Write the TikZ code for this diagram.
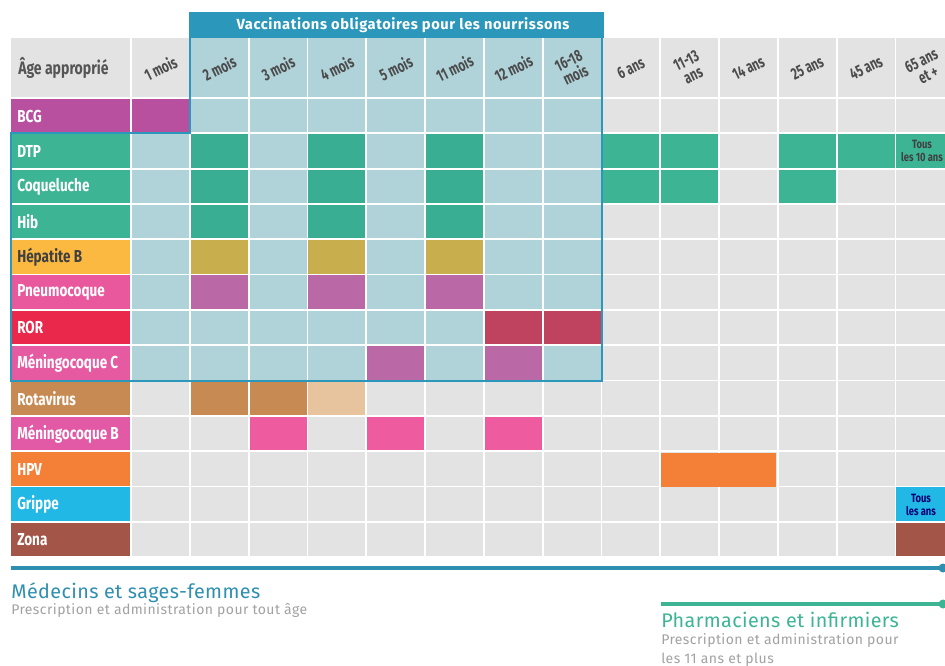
\documentclass[tikz,border=0pt]{standalone}
\usepackage{fontspec}
\setmainfont{Fira Sans}
\newfontfamily\condfont[FakeStretch=0.78]{Fira Sans}
\newfontfamily\narrowfont[FakeStretch=0.7]{Fira Sans}
\usetikzlibrary{calc}
\definecolor{cellgrey}{HTML}{E3E3E3}
\definecolor{cellblue}{HTML}{B0D3DA}
\definecolor{frameblue}{HTML}{2B97BA}
\definecolor{hdrtext}{HTML}{555555}
\definecolor{subgrey}{HTML}{A2A2A2}
\definecolor{cbcg}{HTML}{B9509F}
\definecolor{cteal}{HTML}{3DB595}
\definecolor{ctealin}{HTML}{3AAE92}
\definecolor{chepb}{HTML}{FBB941}
\definecolor{chepbin}{HTML}{C8AE4C}
\definecolor{cpneumo}{HTML}{E9579C}
\definecolor{cpurplein}{HTML}{BB69A6}
\definecolor{cror}{HTML}{E9284B}
\definecolor{crorin}{HTML}{BF435E}
\definecolor{cmenc}{HTML}{E55AA1}
\definecolor{crota}{HTML}{C68A52}
\definecolor{crotalight}{HTML}{E7C39E}
\definecolor{cmenb}{HTML}{E25AA5}
\definecolor{cmenbcell}{HTML}{EE5B9F}
\definecolor{chpv}{HTML}{F47F36}
\definecolor{cgrippe}{HTML}{22B8E6}
\definecolor{czona}{HTML}{A35548}
\definecolor{cmedecin}{HTML}{2E8FB0}
\tikzset{
  rowlabel/.style={anchor=west, inner sep=0pt, font=\condfont\bfseries\fontsize{13}{14}\selectfont},
  colhdr/.style={align=center, rotate=26, inner sep=0pt, text=hdrtext!90!black, font=\narrowfont\bfseries\fontsize{12.5}{12}\selectfont},
  cellnote/.style={align=center, inner sep=0pt, font=\condfont\bfseries\fontsize{9}{9.5}\selectfont},
  legtitle/.style={anchor=base west, inner sep=0pt, font=\addfontfeature{LetterSpace=2}\fontsize{14.8}{16}\selectfont},
  legtext/.style={inner sep=0pt, align=left, text=subgrey, font=\addfontfeature{LetterSpace=3}\fontsize{10.5}{14.3}\selectfont},
}
\def\cellat(#1,#2)[#3]{\fill[#3] ({132+(#1-1)*58.8},{99+(#2-1)*35.3}) rectangle ++(57,33.5);}

\begin{document}
\begin{tikzpicture}[x=0.75pt,y=-0.75pt]
			%%%%% START %%%%%
			\useasboundingbox (0,0) rectangle (945,666);
			\fill[white] (0,0) rectangle (945,666);
			
			% header row
			\fill[cellgrey] (11,38) rectangle (130,97);
			\node[anchor=west, inner sep=0pt, text=hdrtext, font=\condfont\bfseries\fontsize{13.5}{14}\selectfont] (agehdr) at (18,68) {Âge approprié};
			\foreach \c in {1,...,14}{
				\fill[cellgrey] ({132+(\c-1)*58.8},38) rectangle ++(57,59);
			}
			\foreach \c in {2,...,8}{
				\fill[cellblue] ({132+(\c-1)*58.8},38) rectangle ++(57,59);
			}
			\foreach \c/\t in {1/1 mois, 2/2 mois, 3/3 mois, 4/4 mois, 5/5 mois, 6/11 mois, 7/12 mois, 8/{16-18\\mois}, 9/6 ans, 10/{11-13\\ans}, 11/14 ans, 12/25 ans, 13/45 ans, 14/{65 ans\\et +}}{
				\node[colhdr] (col\c) at ({160.5+(\c-1)*58.8},68) {\t};
			}
			
			% empty cells
			\foreach \r in {1,...,13}{
				\foreach \c in {1,...,14}{ \cellat(\c,\r)[cellgrey] }
			}
			\foreach \r in {1,...,8}{
				\foreach \c in {2,...,8}{ \cellat(\c,\r)[cellblue] }
			}
			\foreach \r in {2,...,8}{ \cellat(1,\r)[cellblue] }
			
			% row labels
			\foreach \r/\n/\col/\tc in {1/BCG/cbcg/white, 2/DTP/cteal/white, 3/Coqueluche/cteal/white, 4/Hib/cteal/white, 5/Hépatite B/chepb/black!75, 6/Pneumocoque/cpneumo/white, 7/ROR/cror/white, 8/Méningocoque C/cmenc/white, 9/Rotavirus/crota/white, 10/Méningocoque B/cmenb/white, 11/HPV/chpv/white, 12/Grippe/cgrippe/white, 13/Zona/czona/white}{
				\fill[\col] (11,{99+(\r-1)*35.3}) rectangle ++(119,33.5);
				\node[rowlabel, text=\tc] (lab\r) at (17,{116+(\r-1)*35.3}) {\n};
			}
			
			% doses
			\cellat(1,1)[cbcg]
			\foreach \c in {2,4,6}{
				\cellat(\c,2)[ctealin] \cellat(\c,3)[ctealin] \cellat(\c,4)[ctealin]
				\cellat(\c,5)[chepbin] \cellat(\c,6)[cpurplein]
			}
			\foreach \c in {9,10,12,13,14}{ \cellat(\c,2)[cteal] }
			\foreach \c in {9,10,12}{ \cellat(\c,3)[cteal] }
			\cellat(7,7)[crorin] \cellat(8,7)[crorin]
			\cellat(5,8)[cpurplein] \cellat(7,8)[cpurplein]
			\cellat(2,9)[crota] \cellat(3,9)[crota] \cellat(4,9)[crotalight]
			\foreach \c in {3,5,7}{ \cellat(\c,10)[cmenbcell] }
			\fill[chpv] (661,453) rectangle (776,486.5);
			\cellat(14,12)[cgrippe]
			\cellat(14,13)[czona]
			\node[cellnote, text=black!75] (dtpnote) at (922,151) {Tous\\les 10 ans};
			\node[cellnote, text=blue!45!black] (grippenote) at (921,505) {Tous\\les ans};
			
			% vaccinations obligatoires
			\fill[frameblue] (189,12) rectangle (603.5,38);
			\node[text=white, inner sep=0pt, font=\addfontfeature{LetterSpace=4}\bfseries\fontsize{11}{12}\selectfont] (oblig) at (403,25) {Vaccinations obligatoires pour les nourrissons};
			\draw[frameblue, line width=2.2pt] (190,38) -- (190,133) -- (11,133) -- (11,381) -- (602,381) -- (602,38);
			
			% legend
			\coordinate (medA) at (11,568);
			\coordinate (medB) at (943,568);
			\draw[cmedecin, line width=2.6pt] (medA) -- (medB);
			\fill[cmedecin] (medB) circle (4.5);
			\node[legtitle, text=cmedecin] (medtitle) at (11,598) {Médecins et sages-femmes};
			\node[legtext, anchor=base west] (medtext) at (11,614) {Prescription et administration pour tout âge};
			\coordinate (phaA) at (661,604);
			\coordinate (phaB) at (943,604);
			\draw[cteal, line width=2.6pt] (phaA) -- (phaB);
			\fill[cteal] (phaB) circle (4.5);
			\node[legtitle, text=cteal] (phatitle) at (661,627) {Pharmaciens et infirmiers};
			\node[legtext, anchor=north west] (phatext) at (661,633) {Prescription et administration pour\\les 11 ans et plus};
			%%%%% END %%%%%
\end{tikzpicture}
\end{document}
